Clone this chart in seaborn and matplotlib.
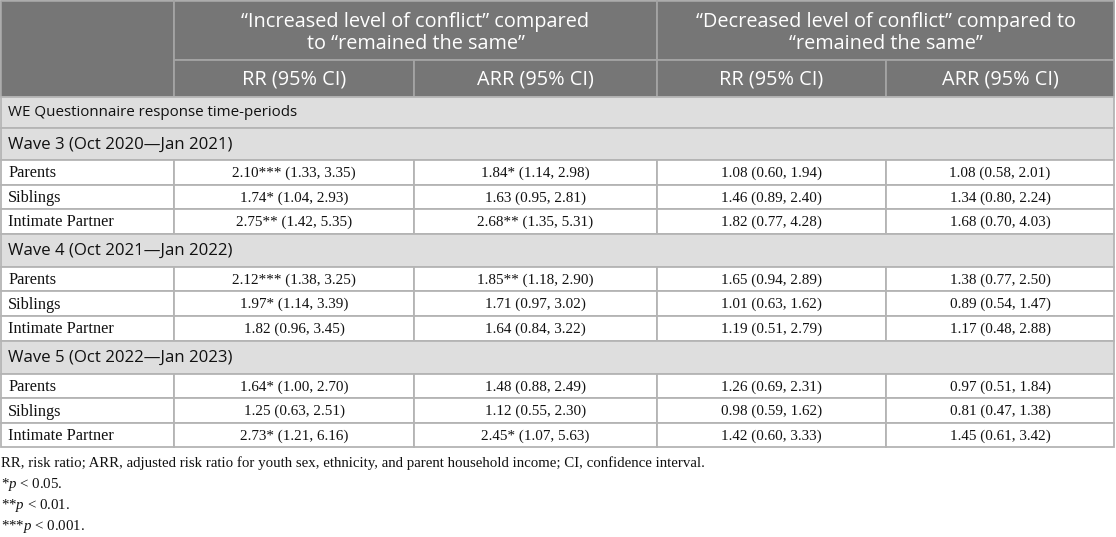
import matplotlib
matplotlib.use("Agg")
import matplotlib.pyplot as plt
import matplotlib.patches as mpatches
import seaborn as sns

# table content
group_headers = ["\u201cIncreased level of conflict\u201d compared\nto \u201cremained the same\u201d",
                 "\u201cDecreased level of conflict\u201d compared to\n\u201cremained the same\u201d"]
sub_headers = ["RR (95% CI)", "ARR (95% CI)", "RR (95% CI)", "ARR (95% CI)"]
section_title = "WE Questionnaire response time-periods"
waves = ["Wave 3 (Oct 2020\u2014Jan 2021)", "Wave 4 (Oct 2021\u2014Jan 2022)", "Wave 5 (Oct 2022\u2014Jan 2023)"]
relations = ["Parents", "Siblings", "Intimate Partner"]

rr_inc = [["2.10*** (1.33, 3.35)", "1.74* (1.04, 2.93)", "2.75** (1.42, 5.35)"],
          ["2.12*** (1.38, 3.25)", "1.97* (1.14, 3.39)", "1.82 (0.96, 3.45)"],
          ["1.64* (1.00, 2.70)", "1.25 (0.63, 2.51)", "2.73* (1.21, 6.16)"]]
arr_inc = [["1.84* (1.14, 2.98)", "1.63 (0.95, 2.81)", "2.68** (1.35, 5.31)"],
           ["1.85** (1.18, 2.90)", "1.71 (0.97, 3.02)", "1.64 (0.84, 3.22)"],
           ["1.48 (0.88, 2.49)", "1.12 (0.55, 2.30)", "2.45* (1.07, 5.63)"]]
rr_dec = [["1.08 (0.60, 1.94)", "1.46 (0.89, 2.40)", "1.82 (0.77, 4.28)"],
          ["1.65 (0.94, 2.89)", "1.01 (0.63, 1.62)", "1.19 (0.51, 2.79)"],
          ["1.26 (0.69, 2.31)", "0.98 (0.59, 1.62)", "1.42 (0.60, 3.33)"]]
arr_dec = [["1.08 (0.58, 2.01)", "1.34 (0.80, 2.24)", "1.68 (0.70, 4.03)"],
           ["1.38 (0.77, 2.50)", "0.89 (0.54, 1.47)", "1.17 (0.48, 2.88)"],
           ["0.97 (0.51, 1.84)", "0.81 (0.47, 1.38)", "1.45 (0.61, 3.42)"]]

footnotes = ["RR, risk ratio; ARR, adjusted risk ratio for youth sex, ethnicity, and parent household income; CI, confidence interval.",
             "*$p$ < 0.05.",
             "**$p$ < 0.01.",
             "***$p$ < 0.001."]

sns.set_theme(style="white")
plt.rcParams["mathtext.fontset"] = "custom"
plt.rcParams["mathtext.rm"] = "Liberation Serif"
plt.rcParams["mathtext.it"] = "Liberation Serif:italic"

W, H = 1116, 537
fig = plt.figure(figsize=(W / 100, H / 100), dpi=100)
ax = fig.add_axes([0, 0, 1, 1])
ax.set_xlim(0, W)
ax.set_ylim(H, 0)
ax.axis("off")

dark = "#767676"
light = "#dedede"
line_dark = "#a4a4a4"
line = "#b4b4b4"
sans = "Open Sans"
serif = "Liberation Serif"
ink = "#111111"

cols = [1, 174, 414, 657, 886, 1114]


def cell(x0, x1, y0, y1, fc, ec):
    ax.add_patch(mpatches.Rectangle((x0, y0), x1 - x0, y1 - y0, facecolor=fc,
                                    edgecolor=ec, linewidth=1.3))


# header
cell(cols[0], cols[1], 1, 97, dark, line_dark)
for g in range(2):
    x0, x1 = cols[1 + 2 * g], cols[3 + 2 * g]
    cell(x0, x1, 1, 60, dark, line_dark)
    ax.text((x0 + x1) / 2, 33, group_headers[g], ha="center", va="center",
            color="white", fontsize=14.3, family=sans, linespacing=1.08)
for k, s in enumerate(sub_headers):
    cell(cols[1 + k], cols[2 + k], 60, 97, dark, line_dark)
    ax.text((cols[1 + k] + cols[2 + k]) / 2, 80, s, ha="center", va="center",
            color="white", fontsize=14.3, family=sans)

# section title row
y = 97
cell(cols[0], cols[-1], y, y + 31, light, line)
ax.text(8, y + 16, section_title, ha="left", va="center", fontsize=10.9, family=sans, color=ink)
y += 31

for w, wave in enumerate(waves):
    h = 32 if w == 0 else 33
    cell(cols[0], cols[-1], y, y + h, light, line)
    ax.text(8, y + h / 2 + 1, wave, ha="left", va="center", fontsize=12.1, family=sans, color=ink)
    y += h
    for r, rel in enumerate(relations):
        rh = 24.6
        vals = [rel, rr_inc[w][r], arr_inc[w][r], rr_dec[w][r], arr_dec[w][r]]
        for k, v in enumerate(vals):
            cell(cols[k], cols[k + 1], y, y + rh, "white", line)
            if k == 0:
                ax.text(8, y + rh / 2 + 1, v, ha="left", va="center", fontsize=11.7,
                        family=serif, color=ink)
            else:
                ax.text((cols[k] + cols[k + 1]) / 2, y + rh / 2 + 1, v, ha="center",
                        va="center", fontsize=10.9, family=serif, color=ink)
        y += rh

# footnotes
for i, note in enumerate(footnotes):
    ax.text(1, 463 + i * 21.3, note, ha="left", va="center", fontsize=10.7,
            family=serif, color=ink)

fig.savefig("out.png", dpi=100)
